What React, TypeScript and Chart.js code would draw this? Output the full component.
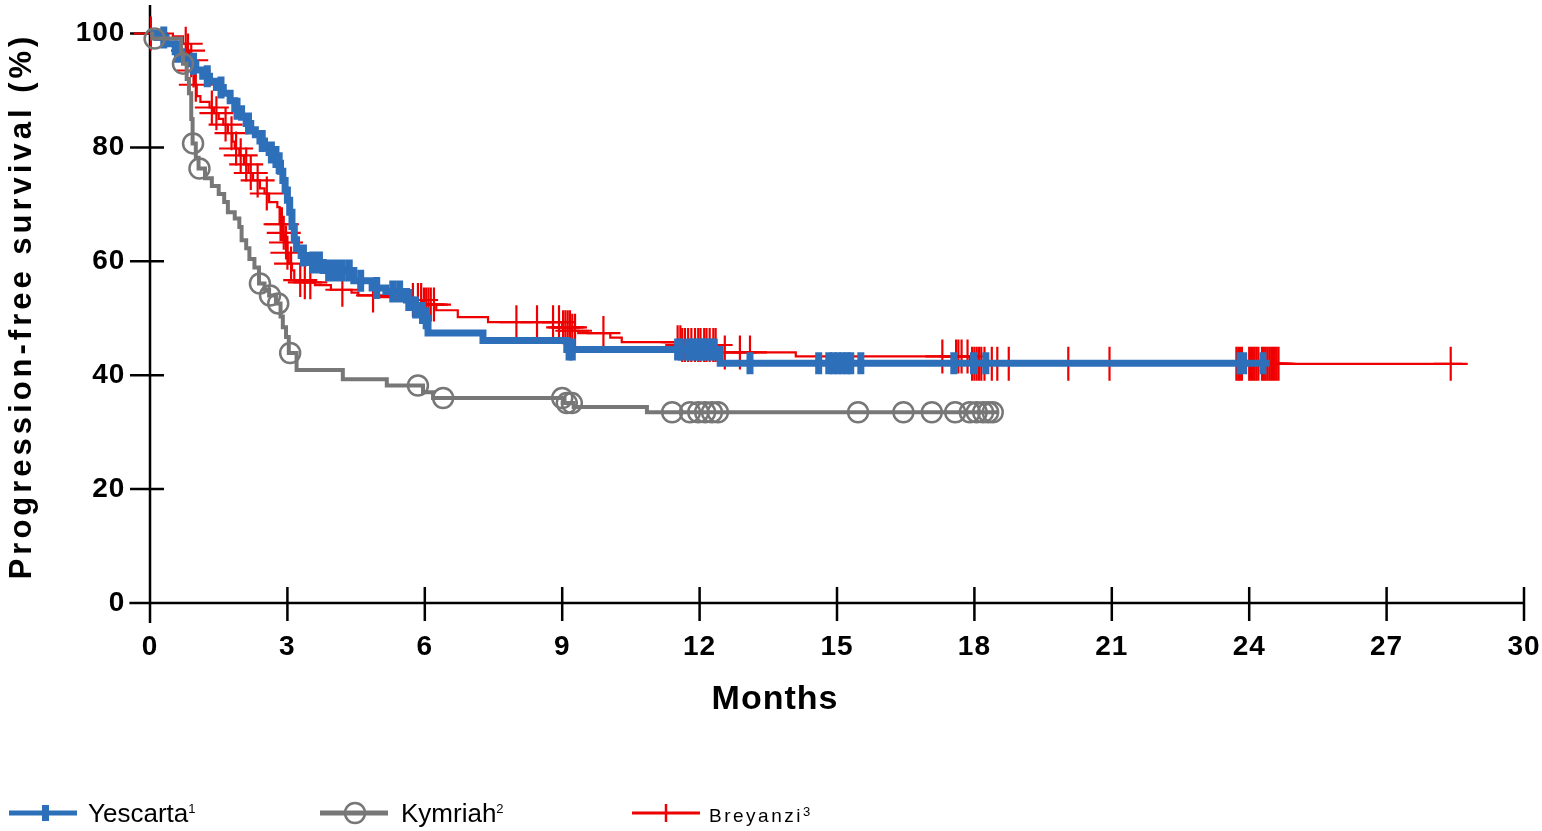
import React, { useEffect, useRef } from 'react';
import { Chart, registerables } from 'chart.js';

Chart.register(...registerables);

// ---------- data (months, % progression-free) ----------
const xTickValues = [0, 3, 6, 9, 12, 15, 18, 21, 24, 27, 30];
const yTickValues = [0, 20, 40, 60, 80, 100];

// Yescarta (blue) step curve
const yescartaTimes = [0, 0.15, 0.35, 0.55, 0.7, 0.85, 1.0, 1.15, 1.3, 1.45, 1.6, 1.75, 1.85, 2.0, 2.1, 2.2, 2.3, 2.4, 2.5, 2.6, 2.7, 2.8, 2.85, 2.9, 2.95, 3.0, 3.05, 3.1, 3.15, 3.2, 3.3, 3.45, 3.78, 4.45, 4.85, 5.15, 5.6, 5.72, 5.88, 6.0, 6.07, 7.27, 9.1, 12.45, 24.45];
const yescartaSurv = [100, 99.3, 98.2, 96.8, 95.6, 94.7, 93.6, 92.5, 91.6, 90.5, 89.5, 88.2, 86.8, 85.3, 84.2, 83.1, 82.2, 81.1, 80.0, 79.1, 78.3, 77.2, 75.8, 74.2, 72.5, 70.7, 68.6, 66.1, 63.8, 62.2, 61.0, 59.8, 58.4, 56.6, 55.3, 54.7, 53.2, 51.9, 50.9, 50.0, 47.4, 46.1, 44.5, 42.1, 42.1];
const yescartaCensor = [0.3, 0.6, 0.95, 1.25, 1.55, 1.9, 2.15, 2.45, 2.65, 2.75, 2.82, 3.35, 3.55, 3.7, 3.9, 4.05, 4.2, 4.35, 4.6, 4.95, 5.3, 5.45, 5.65, 5.8, 5.95, 6.03, 9.15, 9.22, 11.52, 11.6, 11.75, 11.83, 11.92, 12.0, 12.08, 12.16, 12.24, 12.32, 13.1, 14.6, 14.82, 14.92, 15.02, 15.12, 15.22, 15.3, 15.52, 17.55, 17.98, 18.25, 23.8, 23.88, 24.3];

// Kymriah (grey) step curve
const kymriahTimes = [0, 0.05, 0.68, 0.72, 0.8, 0.85, 0.9, 0.93, 1.0, 1.06, 1.2, 1.35, 1.5, 1.62, 1.7, 1.85, 1.95, 2.0, 2.1, 2.17, 2.28, 2.38, 2.5, 2.6, 2.75, 2.85, 2.9, 2.97, 3.03, 3.2, 4.21, 5.17, 5.96, 6.18, 9.05, 9.25, 10.85, 18.5];
const kymriahSurv = [100, 99.1, 96.5, 94.7, 92, 89.5, 85, 80.7, 78.2, 76.3, 74.6, 73.2, 71.8, 70.4, 68.6, 67.5, 66, 63.7, 62.3, 60.4, 58.9, 56.1, 55.0, 54.0, 52.6, 50.3, 48.4, 46.7, 43.9, 40.9, 39.3, 38.2, 37.0, 36.0, 35.1, 34.4, 33.5, 33.5];
const kymriahCensor = [0.1, 0.72, 0.94, 1.08, 2.4, 2.62, 2.8, 3.06, 5.85, 6.4, 9.0, 9.1, 9.21, 11.4, 11.79, 11.97, 12.12, 12.27, 12.4, 15.46, 16.45, 17.07, 17.58, 17.9, 18.05, 18.19, 18.3, 18.4];

// Breyanzi (red) step curve
const breyanziTimes = [0, 0.5, 0.72, 0.8, 0.86, 0.92, 0.97, 1.02, 1.1, 1.3, 1.4, 1.5, 1.6, 1.7, 1.8, 1.85, 1.95, 2.05, 2.15, 2.25, 2.4, 2.5, 2.6, 2.78, 2.83, 2.9, 2.95, 3.0, 3.03, 3.1, 3.15, 3.35, 3.6, 3.95, 4.4, 4.55, 5.0, 5.5, 5.95, 6.25, 6.72, 7.38, 9.0, 9.2, 9.35, 10.05, 10.3, 11.6, 12.45, 14.1, 17.9, 28.65];
const breyanziSurv = [100, 99.5, 98.2, 97, 95.3, 93.5, 91, 89, 88, 87, 86, 85, 84, 82.5, 81, 79.8, 78.6, 77, 75.5, 74.2, 72.8, 71.9, 70.4, 69.5, 66.5, 65, 63.3, 61.5, 59.6, 58.4, 56.7, 56.3, 55.8, 55, 54.5, 54, 53.7, 53.2, 52.4, 51.4, 50.2, 49.3, 48.4, 47.8, 47.4, 46.6, 45.8, 45.3, 44, 43.3, 42, 42];
const breyanziCensor = [0.02, 0.78, 0.83, 0.9, 0.95, 1.0, 1.35, 1.45, 1.65, 1.78, 1.88, 1.98, 2.1, 2.2, 2.35, 2.55, 2.85, 2.88, 2.92, 2.97, 3.0, 3.08, 3.28, 3.38, 3.5, 4.2, 4.87, 5.74, 5.85, 5.92, 5.98, 6.03, 6.08, 6.13, 6.2, 8.0, 8.45, 8.8, 8.93, 9.02, 9.07, 9.12, 9.17, 9.22, 9.28, 9.9, 11.52, 11.58, 11.62, 11.68, 11.75, 11.82, 11.9, 11.97, 12.02, 12.1, 12.15, 12.22, 12.3, 12.35, 12.55, 12.88, 13.1, 17.3, 17.6, 17.65, 17.72, 17.85, 17.95, 18.0, 18.05, 18.1, 18.15, 18.22, 18.38, 18.5, 18.75, 20.05, 20.95, 23.72, 23.76, 23.8, 23.84, 24.0, 24.04, 24.08, 24.12, 24.16, 24.2, 24.28, 24.32, 24.36, 24.4, 24.44, 24.48, 24.52, 24.56, 24.6, 24.64, 28.4];

const seriesNames = ['Yescarta', 'Kymriah', 'Breyanzi'];
const seriesSup = ['1', '2', '3'];
const xTitle = 'Months';
const yTitle = 'Progression-free survival (%)';

// ---------- styling ----------
const BLUE = '#2E6FBA';
const GRAY = '#777777';
const RED = '#EE0000';
const FONT = "'Liberation Sans', Arial, Helvetica, sans-serif";

function steps(times: number[], surv: number[]) {
  return times.map((t, i) => ({ x: t, y: surv[i] }));
}
function valueAt(times: number[], surv: number[], t: number) {
  let v = surv[0];
  for (let i = 0; i < times.length; i++) if (times[i] <= t) v = surv[i];
  return v;
}
function censorPoints(times: number[], surv: number[], cens: number[]) {
  return cens.map((t) => ({ x: t, y: valueAt(times, surv, t) }));
}

// letter spacing for the chart's bold texts (the reference typeface is a little wider)
const spacingPlugin = {
  id: 'textSpacing',
  beforeDraw(chart: any) {
    chart.ctx.letterSpacing = '1px';
  },
  afterDraw(chart: any) {
    chart.ctx.letterSpacing = '0px';
  },
};

// axis lines with tick marks that cross the axes, plus the rotated y title
const axesPlugin = {
  id: 'kmAxes',
  beforeDatasetsDraw(chart: any) {
    const { ctx, scales } = chart;
    const x = scales.x;
    const y = scales.y;
    const x0 = x.getPixelForValue(0);
    const y0 = y.getPixelForValue(0);
    ctx.save();
    ctx.strokeStyle = '#000';
    ctx.lineWidth = 2.5;
    ctx.lineCap = 'butt';
    ctx.beginPath();
    ctx.moveTo(x.left, y0);
    ctx.lineTo(x.getPixelForValue(30) + 1, y0);
    ctx.moveTo(x0, y.top);
    ctx.lineTo(x0, y0 + 20);
    xTickValues.forEach((v) => {
      const px = x.getPixelForValue(v);
      ctx.moveTo(px, y0 - 16);
      ctx.lineTo(px, y0 + 18);
    });
    yTickValues.forEach((v) => {
      const py = y.getPixelForValue(v);
      ctx.moveTo(x0 - 20, py);
      ctx.lineTo(x0 + 14, py);
    });
    ctx.stroke();

    // y axis title
    ctx.translate(22, (y.top + y.bottom) / 2 + 2);
    ctx.rotate(-Math.PI / 2);
    ctx.letterSpacing = '4px';
    ctx.font = `bold 31px ${FONT}`;
    ctx.fillStyle = '#000';
    ctx.textAlign = 'center';
    ctx.textBaseline = 'middle';
    ctx.fillText(yTitle, 0, 0);
    ctx.restore();
  },
};

function LegendMarker({ kind, color }: { kind: string; color: string }) {
  return (
    <svg width={68} height={26} style={{ display: 'block' }}>
      <line x1={0} y1={13} x2={68} y2={13} stroke={color} strokeWidth={kind === 'cross' ? 3 : 5} />
      {kind === 'tick' && <rect x={33} y={5} width={7} height={16} fill={color} />}
      {kind === 'circle' && <circle cx={35} cy={13} r={10} fill="none" stroke={color} strokeWidth={2.5} />}
      {kind === 'cross' && <line x1={34} y1={4} x2={34} y2={22} stroke={color} strokeWidth={2.5} />}
    </svg>
  );
}

export default function App() {
  const canvasRef = useRef<HTMLCanvasElement | null>(null);

  useEffect(() => {
    const canvas = canvasRef.current;
    if (!canvas) return;
    const tickFont = { family: FONT, size: 28, weight: 'bold' as const };
    const chart = new Chart(canvas, {
      type: 'line',
      data: {
        datasets: [
          {
            label: seriesNames[2],
            data: steps(breyanziTimes, breyanziSurv),
            borderColor: RED,
            borderWidth: 2.2,
            stepped: 'before',
            pointRadius: 0,
            fill: false,
            order: 6,
          },
          {
            label: seriesNames[2] + ' censored',
            data: censorPoints(breyanziTimes, breyanziSurv, breyanziCensor),
            showLine: false,
            pointStyle: 'cross',
            pointRadius: 17,
            pointBorderWidth: 2.2,
            pointBorderColor: RED,
            pointBackgroundColor: RED,
            borderColor: RED,
            order: 5,
          },
          {
            label: seriesNames[0],
            data: steps(yescartaTimes, yescartaSurv),
            borderColor: BLUE,
            borderWidth: 7,
            stepped: 'before',
            pointRadius: 0,
            fill: false,
            order: 4,
          },
          {
            label: seriesNames[0] + ' censored',
            data: censorPoints(yescartaTimes, yescartaSurv, yescartaCensor),
            showLine: false,
            pointStyle: 'line',
            rotation: 90,
            pointRadius: 11,
            pointBorderWidth: 7,
            pointBorderColor: BLUE,
            borderColor: BLUE,
            order: 3,
          },
          {
            label: seriesNames[1],
            data: steps(kymriahTimes, kymriahSurv),
            borderColor: GRAY,
            borderWidth: 4,
            stepped: 'before',
            pointRadius: 0,
            fill: false,
            order: 2,
          },
          {
            label: seriesNames[1] + ' censored',
            data: censorPoints(kymriahTimes, kymriahSurv, kymriahCensor),
            showLine: false,
            pointStyle: 'circle',
            pointRadius: 10,
            pointBorderWidth: 2.5,
            pointBorderColor: GRAY,
            pointBackgroundColor: 'rgba(0,0,0,0)',
            borderColor: GRAY,
            order: 1,
          },
        ],
      },
      options: {
        responsive: false,
        animation: false,
        devicePixelRatio: 1,
        events: [],
        layout: { autoPadding: false, padding: { left: 26, right: 18, top: 5, bottom: 110.6 } },
        plugins: {
          legend: { display: false },
          tooltip: { enabled: false },
          title: {
            display: true,
            text: xTitle,
            position: 'bottom',
            color: '#000',
            font: { family: FONT, size: 34, weight: 'bold' },
            padding: 0,
          },
        },
        scales: {
          x: {
            type: 'linear',
            min: -0.45,
            max: 30,
            grid: { display: false, drawTicks: false },
            border: { display: false },
            afterBuildTicks: (s: any) => {
              s.ticks = xTickValues.map((v) => ({ value: v }));
            },
            afterFit: (s: any) => {
              s.height = 76.6;
              s.paddingLeft = 0;
              s.paddingRight = 0;
            },
            ticks: { font: tickFont, color: '#000', padding: 27, autoSkip: false, maxRotation: 0 },
          },
          y: {
            type: 'linear',
            min: 0,
            max: 105,
            grid: { display: false, drawTicks: false },
            border: { display: false },
            afterBuildTicks: (s: any) => {
              s.ticks = yTickValues.map((v) => ({ value: v }));
            },
            afterFit: (s: any) => {
              s.width = 103.4;
              s.paddingTop = 0;
              s.paddingBottom = 0;
            },
            ticks: { font: tickFont, color: '#000', padding: 4 },
          },
        },
      },
      plugins: [spacingPlugin, axesPlugin],
    });
    return () => chart.destroy();
  }, []);

  const legendItems = [
    { name: seriesNames[0], sup: seriesSup[0], kind: 'tick', color: BLUE, markerLeft: 9, textLeft: 88, size: 26, top: 800, spacing: 0 },
    { name: seriesNames[1], sup: seriesSup[1], kind: 'circle', color: GRAY, markerLeft: 320, textLeft: 401, size: 26, top: 800, spacing: 0 },
    { name: seriesNames[2], sup: seriesSup[2], kind: 'cross', color: RED, markerLeft: 632, textLeft: 709, size: 19, top: 806, spacing: 2.5 },
  ];

  return (
    <div style={{ position: 'fixed', left: 0, top: 0, width: 1542, height: 831, background: '#fff', overflow: 'hidden' }}>
      <canvas ref={canvasRef} width={1542} height={831} style={{ position: 'absolute', left: 0, top: 0, width: 1542, height: 831, display: 'block' }} />
      {legendItems.map((it) => (
        <React.Fragment key={it.name}>
          <div style={{ position: 'absolute', left: it.markerLeft, top: 800 }}>
            <LegendMarker kind={it.kind} color={it.color} />
          </div>
          <div
            style={{
              position: 'absolute',
              left: it.textLeft,
              top: it.top,
              fontFamily: FONT,
              fontSize: it.size,
              lineHeight: `${it.size}px`,
              letterSpacing: it.spacing,
              color: '#000',
              whiteSpace: 'nowrap',
            }}
          >
            {it.name}
            <span style={{ fontSize: 13, position: 'relative', top: it.size === 26 ? -9 : -6, letterSpacing: 0 }}>{it.sup}</span>
          </div>
        </React.Fragment>
      ))}
    </div>
  );
}
